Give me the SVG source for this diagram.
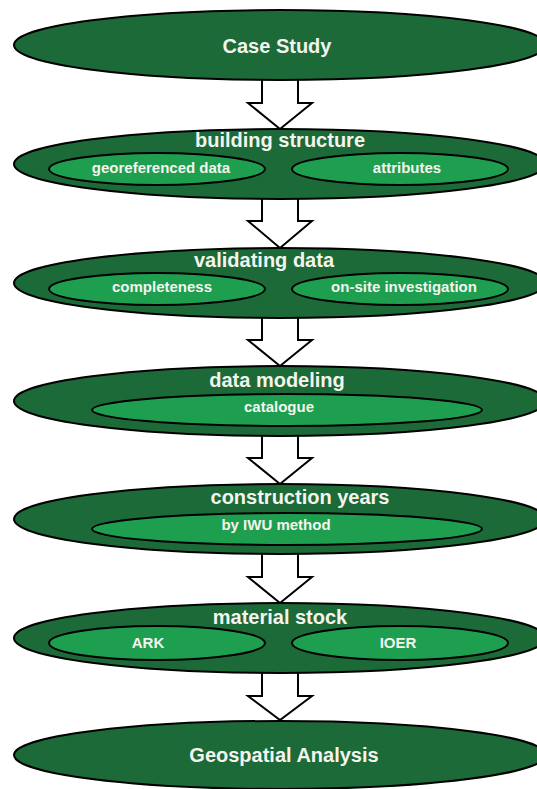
<svg xmlns="http://www.w3.org/2000/svg" width="537" height="789" viewBox="0 0 537 789">
<style>
.outer{fill:#1b6a37;stroke:#000;stroke-width:2}
.inner{fill:#1e9e4f;stroke:#000;stroke-width:2}
.arrow{fill:#fff;stroke:#000;stroke-width:2;stroke-linejoin:miter}
.t{font-family:"Liberation Sans",Arial,sans-serif;font-weight:bold;fill:#f4f4ee;text-anchor:middle}
.big{font-size:20px}
.small{font-size:15px}
</style>
<rect width="537" height="789" fill="#fff"/>
<g id="connectors">
<polygon class="arrow" points="262,76 298,76 298,103 312,103 280,129 248,103 262,103"/>
<polygon class="arrow" points="262,194 298,194 298,221 312,221 280,248 248,221 262,221"/>
<polygon class="arrow" points="262,313 298,313 298,340 312,340 280,366 248,340 262,340"/>
<polygon class="arrow" points="262,431 298,431 298,458 312,458 280,484 248,458 262,458"/>
<polygon class="arrow" points="262,549 298,549 298,577 312,577 280,603 248,577 262,577"/>
<polygon class="arrow" points="262,668 298,668 298,696 312,696 280,720 248,696 262,696"/>
</g>
<g id="case-study">
<ellipse class="outer" cx="280" cy="45" rx="266" ry="35"/>
<text class="t big" x="277" y="53">Case Study</text>
</g>
<g id="building-structure">
<ellipse class="outer" cx="280" cy="164" rx="266" ry="35"/>
<text class="t big" x="280" y="147">building structure</text>
<g id="georeferenced-data">
<ellipse class="inner" cx="157" cy="169" rx="108" ry="16"/>
<text class="t small" x="161" y="173">georeferenced data</text>
</g>
<g id="attributes">
<ellipse class="inner" cx="400" cy="169" rx="108" ry="16"/>
<text class="t small" x="407" y="173">attributes</text>
</g>
</g>
<g id="validating-data">
<ellipse class="outer" cx="280" cy="283" rx="266" ry="35"/>
<text class="t big" x="264" y="267">validating data</text>
<g id="completeness">
<ellipse class="inner" cx="157" cy="289" rx="108" ry="16"/>
<text class="t small" x="162" y="292">completeness</text>
</g>
<g id="on-site-investigation">
<ellipse class="inner" cx="400" cy="289" rx="108" ry="16"/>
<text class="t small" x="404" y="292">on-site investigation</text>
</g>
</g>
<g id="data-modeling">
<ellipse class="outer" cx="280" cy="401" rx="266" ry="35"/>
<text class="t big" x="277" y="387">data modeling</text>
<g id="catalogue">
<ellipse class="inner" cx="287" cy="410" rx="195" ry="16"/>
<text class="t small" x="279" y="412">catalogue</text>
</g>
</g>
<g id="construction-years">
<ellipse class="outer" cx="280" cy="519" rx="266" ry="35"/>
<text class="t big" x="300" y="504">construction years</text>
<g id="by-iwu-method">
<ellipse class="inner" cx="287" cy="529" rx="195" ry="16"/>
<text class="t small" x="276" y="530">by IWU method</text>
</g>
</g>
<g id="material-stock">
<ellipse class="outer" cx="280" cy="638" rx="266" ry="35"/>
<text class="t big" x="280" y="624">material stock</text>
<g id="ark">
<ellipse class="inner" cx="157" cy="643" rx="108" ry="17"/>
<text class="t small" x="148" y="648">ARK</text>
</g>
<g id="ioer">
<ellipse class="inner" cx="400" cy="643" rx="108" ry="17"/>
<text class="t small" x="398" y="648">IOER</text>
</g>
</g>
<g id="geospatial-analysis">
<ellipse class="outer" cx="280" cy="755" rx="266" ry="34"/>
<text class="t big" x="284" y="762">Geospatial Analysis</text>
</g>
</svg>
